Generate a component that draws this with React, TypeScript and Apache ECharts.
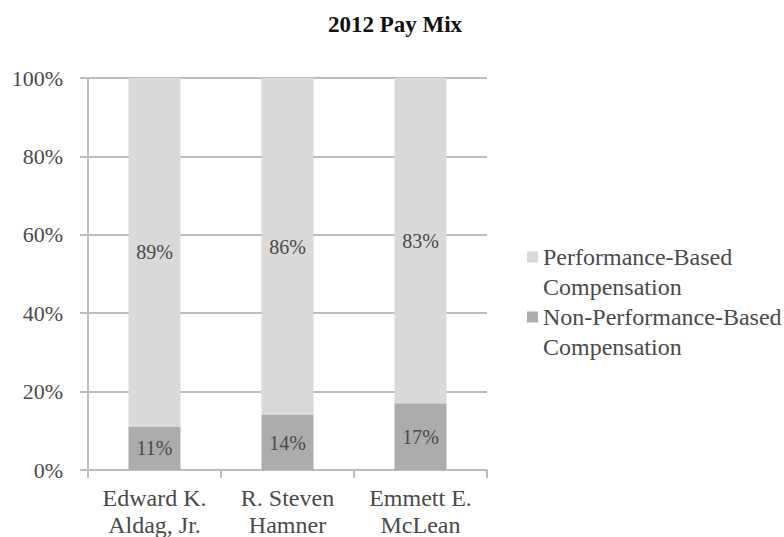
import React, { useEffect, useRef } from "react";
import * as echarts from "echarts";

const title = "2012 Pay Mix";
const categories = ["Edward K.\nAldag, Jr.", "R. Steven\nHamner", "Emmett E.\nMcLean"];
const nonPerformance = [11, 14, 17];
const performance = [89, 86, 83];
const seriesNames = ["Performance-Based\nCompensation", "Non-Performance-Based\nCompensation"];
const yTicks = [0, 20, 40, 60, 80, 100];

const FONT = "Liberation Serif";
const TEXT = "#4a4a4a";
const LIGHT = "#d9d9d9";
const DARK = "#acacac";
const GRID = "#bdbdbd";

export default function App() {
  const ref = useRef<HTMLDivElement>(null);
  useEffect(() => {
    if (!ref.current) return;
    const chart = echarts.init(ref.current, undefined, { renderer: "svg" });
    const label = {
      show: true,
      position: "inside",
      formatter: (p: any) => `${p.value}%`,
      fontFamily: FONT,
      fontSize: 20,
      color: TEXT,
    };
    chart.setOption({
      animation: false,
      backgroundColor: "#ffffff",
      title: {
        text: title,
        left: 390,
        textAlign: "center",
        top: 8,
        textStyle: { fontFamily: FONT, fontSize: 23, fontWeight: "bold", color: "#111" },
      },
      legend: {
        data: [seriesNames[0], seriesNames[1]],
        orient: "vertical",
        left: 527,
        top: 212,
        padding: 0,
        itemWidth: 11,
        itemHeight: 11,
        itemGap: -30,
        icon: "rect",
        formatter: (name: string) => "\n" + name,
        textStyle: {
          fontFamily: FONT,
          fontSize: 24,
          color: TEXT,
          lineHeight: 30,
        },
      },
      grid: {
        left: 88,
        right: 297,
        top: 78,
        bottom: 67,
        containLabel: false,
        outerBoundsMode: "none",
      },
      xAxis: {
        type: "category",
        data: categories,
        axisLine: { lineStyle: { color: GRID, width: 2 } },
        axisTick: { show: true, length: 8, lineStyle: { color: GRID, width: 2 } },
        axisLabel: {
          interval: 0,
          hideOverlap: false,
          fontFamily: FONT,
          fontSize: 24,
          color: TEXT,
          lineHeight: 27,
          margin: 14,
        },
      },
      yAxis: {
        type: "value",
        min: yTicks[0],
        max: yTicks[yTicks.length - 1],
        interval: 20,
        axisLine: { show: true, lineStyle: { color: GRID, width: 2 } },
        axisTick: { show: true, length: 8, lineStyle: { color: GRID, width: 2 } },
        splitLine: { show: true, lineStyle: { color: GRID, width: 2 } },
        axisLabel: {
          fontFamily: FONT,
          fontSize: 22,
          color: TEXT,
          margin: 25,
          formatter: (v: number) => `${v}%`,
        },
      },
      series: [
        {
          name: seriesNames[1],
          type: "bar",
          stack: "total",
          data: nonPerformance,
          barWidth: 52,
          itemStyle: { color: DARK },
          label,
        },
        {
          name: seriesNames[0],
          type: "bar",
          stack: "total",
          data: performance,
          barWidth: 52,
          itemStyle: { color: LIGHT },
          label,
        },
      ],
    });
    return () => chart.dispose();
  }, []);
  return (
    <div
      ref={ref}
      style={{ position: "absolute", left: 0, top: 0, width: 784, height: 537 }}
    />
  );
}
